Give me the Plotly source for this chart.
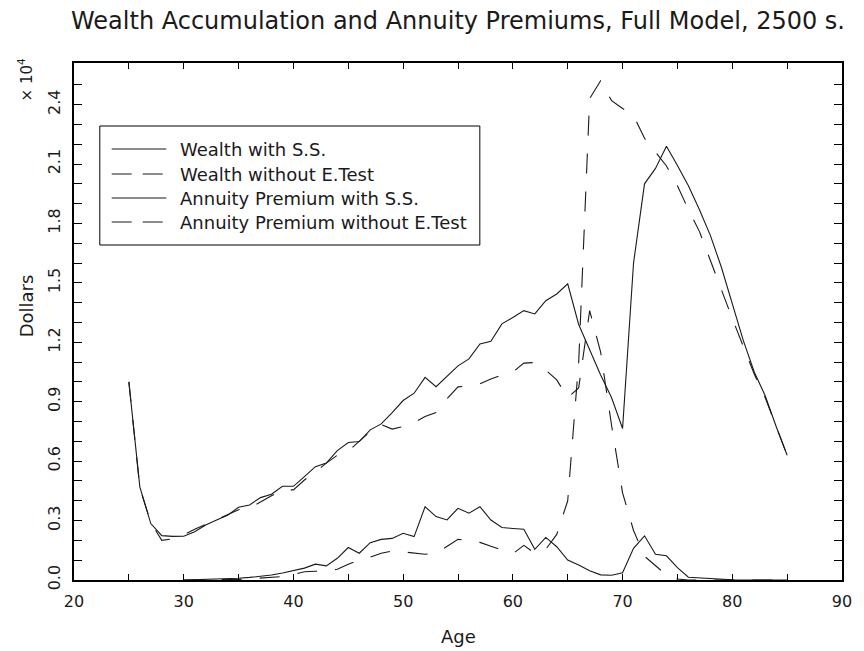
import plotly.graph_objects as go

# ---- data (dollars) -------------------------------------------------------
ages_wealth = list(range(25, 86))
wealth_ss = [
    10000, 4700, 2850, 2240, 2200, 2210, 2440, 2780, 3030, 3270,
    3670, 3790, 4160, 4330, 4730, 4730, 5220, 5720, 5900, 6530,
    6940, 6990, 7580, 7880, 8450, 9060, 9430, 10230, 9760, 10270,
    10810, 11160, 11920, 12050, 12930, 13250, 13600, 13430, 14100, 14440,
    14950, 12900, 11600, 10350, 9200, 7650, 16000, 20000, 20780, 21900,
    20930, 19900, 18700, 17400, 15800, 13950, 12100, 10500, 9300, 7750,
    6300,
]
wealth_no_etest = [
    10000, 4650, 2900, 2000, 2080, 2280, 2560, 2800, 3050, 3300,
    3550, 3620, 3950, 4250, 4550, 4550, 5050, 5450, 5900, 6300,
    6500, 7000, 7500, 7850, 7620, 7750, 7950, 8250, 8450, 9150,
    9750, 9800, 9900, 10150, 10350, 10500, 10950, 10980, 10600, 10100,
    9200, 9700, 13600, 11500, 7800, 4400, 2500, 1200, 700, 250,
    50, 0, 0, 0, 0, 0, 0, 0, 0, 0,
    0,
]

ages_premium = list(range(30, 86))
premium_ss = [
    0, 10, 20, 30, 50, 85, 130, 180, 250, 350,
    490, 600, 800, 715, 1095, 1640, 1350, 1885, 2050, 2100,
    2360, 2190, 3700, 3200, 3030, 3620, 3370, 3700, 3030, 2650,
    2600, 2560, 1550, 2150, 1680, 1010, 760, 470, 260, 240,
    370, 1600, 2230, 1300, 1220, 620, 140, 100, 60, 30,
    10, 0, 0, 0, 0, 0,
]
premium_no_etest = [
    0, 0, 0, 0, 10, 30, 60, 100, 150, 170,
    280, 420, 440, 470, 540, 800, 1000, 1150, 1350, 1460,
    1420, 1360, 1300, 1350, 1700, 2050, 2000, 1900, 1700, 1500,
    1330, 1750, 1350, 1550, 2300, 4000, 11000, 24300, 25200, 24200,
    23800, 23450, 22300, 21600, 20900, 19900, 18700, 17600, 16100, 14700,
    13200, 11800, 10400, 9200, 7800, 6300,
]

series_names = [
    "Wealth with S.S.",
    "Wealth without E.Test",
    "Annuity Premium with S.S.",
    "Annuity Premium without E.Test",
]

# ticks every 5 years / every 0.1 x 10^4 dollars, labels on a coarser step
x_tick_vals = list(range(20, 95, 5))
x_tick_text = [str(v) if v % 10 == 0 else " " for v in x_tick_vals]
y_tick_vals = list(range(0, 26000, 1000))
y_tick_text = [f"{v / 1e4:.1f}" if v % 3000 == 0 else " " for v in y_tick_vals]

# ---- page geometry (pixels) ----------------------------------------------
W, H = 864, 651
L, R, T, B = 74, 848, 63, 580
FONT = "DejaVu Sans"
INK = "#1a1a1a"
DASH = "20px,18px"


def paper(px, py):
    return (px - L) / (R - L), (B - py) / (B - T)


fig = go.Figure()
line_styles = ["solid", DASH, "solid", DASH]
xs = [ages_wealth, ages_wealth, ages_premium, ages_premium]
ys = [wealth_ss, wealth_no_etest, premium_ss, premium_no_etest]
for name, x, y, dash in zip(series_names, xs, ys, line_styles):
    fig.add_trace(go.Scatter(
        x=x, y=y, name=name, mode="lines", showlegend=False,
        line=dict(color=INK, width=1.1, dash=dash),
        hoverinfo="skip",
    ))

axis_common = dict(
    showgrid=False, zeroline=False, showline=True, linecolor="black",
    linewidth=2, mirror="ticks", ticks="inside", tickcolor="black",
    tickwidth=1.3, tickfont=dict(family=FONT, size=16, color=INK),
)
fig.update_xaxes(range=[20, 90], tickmode="array", tickvals=x_tick_vals,
                 ticktext=x_tick_text, ticklen=6, ticklabelstandoff=6,
                 **axis_common)
fig.update_yaxes(range=[0, 26100], tickmode="array", tickvals=y_tick_vals,
                 ticktext=y_tick_text, ticklen=8, tickangle=-90,
                 ticklabelstandoff=6, **axis_common)

annotations = []
shapes = []


def text_at(px, py, text, size, angle=0, anchor="center"):
    ax, ay = paper(px, py)
    annotations.append(dict(
        x=ax, y=ay, xref="paper", yref="paper", text=text, showarrow=False,
        xanchor=anchor, yanchor="middle", textangle=angle,
        font=dict(family=FONT, size=size, color=INK),
    ))


text_at(461, 21, "Wealth Accumulation and Annuity Premiums, Full Model, 2500 s.", 24)
text_at(461, 636, "Age", 18)
text_at(26, 306, "Dollars", 18, angle=-90)
text_at(25, 80, "× 10<sup>4</sup>", 15, angle=-90)

# legend box
bx0, by0 = paper(100, 245)
bx1, by1 = paper(483, 126)
shapes.append(dict(type="rect", xref="paper", yref="paper", x0=bx0, y0=by0,
                   x1=bx1, y1=by1, line=dict(color="black", width=1),
                   fillcolor="white", layer="above"))
legend_rows = [149, 174, 198, 222]
legend_dash = ["solid", "20px,11px", "solid", "20px,11px"]
for name, row, dash in zip(series_names, legend_rows, legend_dash):
    lx0, ly = paper(112, row)
    lx1, _ = paper(167, row)
    shapes.append(dict(type="line", xref="paper", yref="paper", x0=lx0, y0=ly,
                       x1=lx1, y1=ly, line=dict(color=INK, width=1.1, dash=dash),
                       layer="above"))
    text_at(179, row, name, 18, anchor="left")

fig.update_layout(
    width=W, height=H, autosize=False,
    margin=dict(l=L, r=W - R, t=T, b=H - B, pad=0),
    paper_bgcolor="white", plot_bgcolor="white",
    annotations=annotations, shapes=shapes,
)

fig.write_html("out.html")
